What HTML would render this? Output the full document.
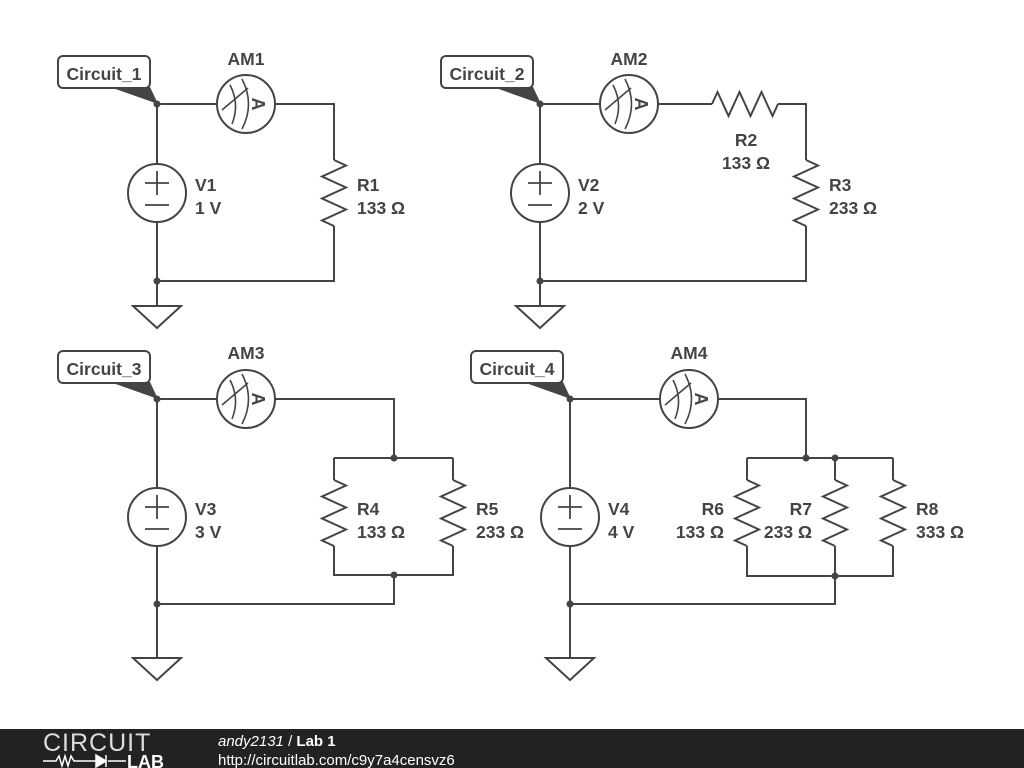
<!DOCTYPE html>
<html><head><meta charset="utf-8"><style>
html,body{margin:0;padding:0;background:#fff;width:1024px;height:768px;overflow:hidden}
svg{display:block}
text{font-family:"Liberation Sans",sans-serif;font-weight:bold;fill:#444;font-size:17.5px}
</style></head><body>
<svg width="1024" height="768" viewBox="0 0 1024 768">
<defs>
<g id="am">
<circle r="29" fill="#fff" stroke="#444" stroke-width="2"/>
<path d="M-16,-19 Q-6,0 -14,20 M-4,-25 Q9,0 -4,25 M-24,6 L2,-16" fill="none" stroke="#444" stroke-width="1.6"/>
<text x="0" y="0" transform="translate(12,0) rotate(90)" text-anchor="middle" dy="6" style="font-size:18px">A</text>
</g>
<g id="vs">
<circle r="29" fill="#fff" stroke="#444" stroke-width="2"/>
<path d="M-12,-10 H12 M0,-22 V2 M-12,12 H12" stroke="#444" stroke-width="1.8"/>
</g>
<polyline id="rv" points="0,0 12,5.5 -12,16.5 12,27.5 -12,38.5 12,49.5 -12,60.5 0,66" fill="none" stroke="#444" stroke-width="2" stroke-linejoin="miter"/>
<g id="gnd"><path d="M-24,0 H24 L0,22 Z" fill="#fff" stroke="#444" stroke-width="2"/></g>
</defs>
<g fill="none" stroke="#444" stroke-width="2">
<path d="M157,104 H217 M275,104 H334 V160 M334,226 V281 H157 M157,104 V164 M157,222 V306"/>
<path d="M540,104 H600 M658,104 H712 M778,104 H806 V160 M806,226 V281 H540 M540,104 V164 M540,222 V306"/>
<path d="M157,399 H217 M275,399 H394 V458 M334,458 H453 M334,458 V480 M453,458 V480 M334,546 V575 H453 V546 M394,575 V604 H157 M157,399 V488 M157,546 V658"/>
<path d="M570,399 H660 M718,399 H806 V458 M747,458 H893 M747,458 V480 M835,458 V480 M893,458 V480 M747,546 V576 H893 V546 M835,546 V576 M835,576 V604 H570 M570,399 V488 M570,546 V658"/>
</g>
<use href="#rv" x="334" y="160"/>
<use href="#rv" x="806" y="160"/>
<use href="#rv" transform="translate(712,104) rotate(-90)"/>
<use href="#rv" x="334" y="480"/>
<use href="#rv" x="453" y="480"/>
<use href="#rv" x="747" y="480"/>
<use href="#rv" x="835" y="480"/>
<use href="#rv" x="893" y="480"/>
<use href="#am" x="246" y="104"/>
<use href="#am" x="629" y="104"/>
<use href="#am" x="246" y="399"/>
<use href="#am" x="689" y="399"/>
<use href="#vs" x="157" y="193"/>
<use href="#vs" x="540" y="193"/>
<use href="#vs" x="157" y="517"/>
<use href="#vs" x="570" y="517"/>
<use href="#gnd" x="157" y="306"/>
<use href="#gnd" x="540" y="306"/>
<use href="#gnd" x="157" y="658"/>
<use href="#gnd" x="570" y="658"/>
<g fill="#444">
<circle cx="157" cy="104" r="3.5"/><circle cx="157" cy="281" r="3.5"/>
<circle cx="540" cy="104" r="3.5"/><circle cx="540" cy="281" r="3.5"/>
<circle cx="157" cy="399" r="3.5"/><circle cx="394" cy="458" r="3.5"/><circle cx="394" cy="575" r="3.5"/><circle cx="157" cy="604" r="3.5"/>
<circle cx="570" cy="399" r="3.5"/><circle cx="806" cy="458" r="3.5"/><circle cx="835" cy="458" r="3.5"/><circle cx="835" cy="576" r="3.5"/><circle cx="570" cy="604" r="3.5"/>
<path d="M110,87 H150 L158,104 Z"/>
<path d="M493,87 H533 L541,104 Z"/>
<path d="M110,382 H150 L158,399 Z"/>
<path d="M523,382 H563 L571,399 Z"/>
</g>
<g fill="#fff" stroke="#444" stroke-width="2">
<rect x="58" y="56" width="92" height="32" rx="5"/>
<rect x="441" y="56" width="92" height="32" rx="5"/>
<rect x="58" y="351" width="92" height="32" rx="5"/>
<rect x="471" y="351" width="92" height="32" rx="5"/>
</g>
<text x="104" y="80" text-anchor="middle">Circuit_1</text>
<text x="487" y="80" text-anchor="middle">Circuit_2</text>
<text x="104" y="375" text-anchor="middle">Circuit_3</text>
<text x="517" y="375" text-anchor="middle">Circuit_4</text>
<text x="246" y="65" text-anchor="middle">AM1</text>
<text x="629" y="65" text-anchor="middle">AM2</text>
<text x="246" y="359" text-anchor="middle">AM3</text>
<text x="689" y="359" text-anchor="middle">AM4</text>
<text x="195" y="191">V1</text><text x="195" y="214">1 V</text>
<text x="578" y="191">V2</text><text x="578" y="214">2 V</text>
<text x="195" y="515">V3</text><text x="195" y="538">3 V</text>
<text x="608" y="515">V4</text><text x="608" y="538">4 V</text>
<text x="357" y="191">R1</text><text x="357" y="214">133 Ω</text>
<text x="746" y="146" text-anchor="middle">R2</text><text x="746" y="169" text-anchor="middle">133 Ω</text>
<text x="829" y="191">R3</text><text x="829" y="214">233 Ω</text>
<text x="357" y="515">R4</text><text x="357" y="538">133 Ω</text>
<text x="476" y="515">R5</text><text x="476" y="538">233 Ω</text>
<text x="724" y="515" text-anchor="end">R6</text><text x="724" y="538" text-anchor="end">133 Ω</text>
<text x="812" y="515" text-anchor="end">R7</text><text x="812" y="538" text-anchor="end">233 Ω</text>
<text x="916" y="515">R8</text><text x="916" y="538">333 Ω</text>
<rect x="0" y="729" width="1024" height="39" fill="#222"/>
<text x="43" y="751" style="font-weight:normal;fill:#ddd;font-size:25px;letter-spacing:1px">CIRCUIT</text>
<path d="M43,761 H56 L59,756 L62,766 L65,756 L68,766 L71,756 L74,761 H96 M108,761 H126" stroke="#fff" stroke-width="1.5" fill="none"/>
<path d="M96,755 L106,761 L96,767 Z M106,755 V767" fill="#fff" stroke="#fff" stroke-width="1.5"/>
<text x="127" y="768" style="fill:#fff;font-size:18px">LAB</text>
<text x="218" y="746" style="font-weight:normal;font-style:italic;fill:#fff;font-size:15px">andy2131 <tspan style="font-style:normal">/</tspan> <tspan style="font-weight:bold;font-style:normal">Lab 1</tspan></text>
<text x="218" y="765" style="font-weight:normal;fill:#fff;font-size:15px">http://circuitlab.com/c9y7a4censvz6</text>
</svg>
</body></html>
